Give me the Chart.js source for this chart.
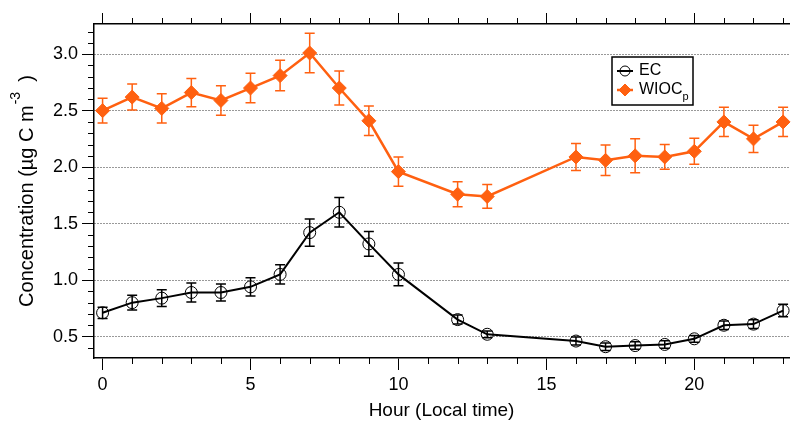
<!DOCTYPE html>
<html>
<head>
<meta charset="utf-8">
<title>EC and WIOCp diurnal profile</title>
<script src="https://cdn.jsdelivr.net/npm/chart.js@4.4.0/dist/chart.umd.min.js"></script>
<style>
  html, body { margin: 0; padding: 0; background: #fff; }
  #wrap { width: 797px; height: 422px; }
</style>
</head>
<body>
<div id="wrap"><canvas id="chart" width="797" height="422"></canvas></div>
<script>
'use strict';

// hours with data (11, 14, 15 missing)
const HOURS = [0, 1, 2, 3, 4, 5, 6, 7, 8, 9, 10, 12, 13, 16, 17, 18, 19, 20, 21, 22, 23];

const EC      = [0.71, 0.80, 0.84, 0.89, 0.89, 0.94, 1.05, 1.42, 1.60, 1.32, 1.05, 0.65, 0.52, 0.46, 0.41, 0.42, 0.43, 0.48, 0.60, 0.61, 0.73];
const EC_ERR  = [0.05, 0.065, 0.075, 0.085, 0.075, 0.08, 0.085, 0.12, 0.13, 0.11, 0.10, 0.04, 0.03, 0.035, 0.033, 0.033, 0.033, 0.03, 0.038, 0.038, 0.055];

const WIOC     = [2.50, 2.62, 2.52, 2.66, 2.59, 2.70, 2.81, 3.01, 2.70, 2.41, 1.96, 1.76, 1.74, 2.09, 2.06, 2.10, 2.09, 2.14, 2.40, 2.25, 2.40];
const WIOC_ERR = [0.11, 0.115, 0.13, 0.125, 0.13, 0.13, 0.135, 0.175, 0.15, 0.13, 0.13, 0.11, 0.105, 0.12, 0.135, 0.15, 0.11, 0.115, 0.13, 0.12, 0.13];

const X_TICKS = [0, 5, 10, 15, 20];
const Y_TICKS = [0.5, 1.0, 1.5, 2.0, 2.5, 3.0];

const ORANGE = '#ff6010';
const FONT = '"Liberation Sans", Arial, sans-serif';

const toPoints = (ys) => HOURS.map((h, i) => ({ x: h, y: ys[i] }));

// vertical error bars with caps, drawn under the markers
const errorBars = {
  id: 'errorBars',
  beforeDatasetsDraw(chart) {
    const { ctx, scales: { x, y } } = chart;
    chart.data.datasets.forEach(ds => {
      ctx.save();
      ctx.strokeStyle = ds.borderColor;
      ctx.lineWidth = 1.5;
      ctx.beginPath();
      ds.data.forEach((p, i) => {
        const px = x.getPixelForValue(p.x);
        const top = y.getPixelForValue(p.y + ds.errors[i]);
        const bot = y.getPixelForValue(p.y - ds.errors[i]);
        ctx.moveTo(px, top); ctx.lineTo(px, bot);
        ctx.moveTo(px - 5, top); ctx.lineTo(px + 5, top);
        ctx.moveTo(px - 5, bot); ctx.lineTo(px + 5, bot);
      });
      ctx.stroke();
      ctx.restore();
    });
  }
};

// short minor ticks: every hour on x (top + bottom), every 0.1 on y
const minorTicks = {
  id: 'minorTicks',
  afterDraw(chart) {
    const { ctx, chartArea: a, scales: { x, y } } = chart;
    ctx.save();
    ctx.strokeStyle = '#000';
    ctx.lineWidth = 1;
    ctx.beginPath();
    for (let h = Math.ceil(x.min); h <= Math.floor(x.max); h++) {
      if (X_TICKS.includes(h)) continue;
      const px = Math.round(x.getPixelForValue(h)) + 0.5;
      ctx.moveTo(px, a.bottom); ctx.lineTo(px, a.bottom + 6);
      ctx.moveTo(px, a.top); ctx.lineTo(px, a.top - 6);
    }
    for (let k = Math.ceil(y.min * 10); k <= Math.floor(y.max * 10); k++) {
      if (k % 5 === 0) continue;
      const py = Math.round(y.getPixelForValue(k / 10)) + 0.5;
      ctx.moveTo(a.left - 6, py); ctx.lineTo(a.left, py);
    }
    ctx.stroke();
    ctx.restore();
  }
};

// y title with superscript
const yTitle = {
  id: 'yTitle',
  afterDraw(chart) {
    const { ctx, chartArea: a } = chart;
    const main = 'Concentration (µg C m', sup = '-3', end = '  )';
    ctx.save();
    ctx.translate(27, (a.top + a.bottom) / 2);
    ctx.rotate(-Math.PI / 2);
    ctx.fillStyle = '#000';
    ctx.textBaseline = 'middle';
    ctx.textAlign = 'left';
    ctx.font = '20px ' + FONT;
    const w1 = ctx.measureText(main).width, w3 = ctx.measureText(end).width;
    ctx.font = '14px ' + FONT;
    const w2 = ctx.measureText(sup).width;
    const sx = -(w1 + w2 + w3) / 2;
    ctx.font = '20px ' + FONT;
    ctx.fillText(main, sx, 0);
    ctx.font = '14px ' + FONT;
    ctx.fillText(sup, sx + w1 + 1, -11);
    ctx.font = '20px ' + FONT;
    ctx.fillText(end, sx + w1 + w2, 0);
    ctx.restore();
  }
};

// boxed legend inside the plot
const legendBox = {
  id: 'legendBox',
  afterDraw(chart) {
    const { ctx } = chart;
    const bx = 612, by = 57, bw = 81, bh = 48;
    ctx.save();
    ctx.fillStyle = '#fff';
    ctx.fillRect(bx, by, bw, bh);
    ctx.strokeStyle = '#000';
    ctx.lineWidth = 1.5;
    ctx.strokeRect(bx, by, bw, bh);
    const rows = [
      { ds: chart.data.datasets[0], y: by + 14 },
      { ds: chart.data.datasets[1], y: by + 33 }
    ];
    rows.forEach(r => {
      const ds = r.ds, cx = bx + 13;
      ctx.strokeStyle = ds.borderColor;
      ctx.lineWidth = ds.borderWidth;
      ctx.beginPath(); ctx.moveTo(bx + 5, r.y); ctx.lineTo(bx + 21, r.y); ctx.stroke();
      ctx.fillStyle = ds.pointBackgroundColor;
      ctx.strokeStyle = ds.pointBorderColor;
      ctx.lineWidth = ds.pointBorderWidth;
      Chart.helpers.drawPoint(ctx, {
        pointStyle: ds.pointStyle, radius: ds.pointRadius - 1, rotation: 0,
        borderWidth: ds.pointBorderWidth
      }, cx, r.y);
      ctx.fillStyle = '#000';
      ctx.textBaseline = 'middle';
      ctx.textAlign = 'left';
      ctx.font = '16px ' + FONT;
      ctx.fillText(ds.label, bx + 27, r.y);
      if (ds.subLabel) {
        const w = ctx.measureText(ds.label).width;
        ctx.font = '11px ' + FONT;
        ctx.fillText(ds.subLabel, bx + 27 + w, r.y + 7);
      }
    });
    ctx.restore();
  }
};

new Chart(document.getElementById('chart'), {
  type: 'scatter',
  data: {
    datasets: [
      {
        label: 'EC', data: toPoints(EC), errors: EC_ERR,
        showLine: true, borderColor: '#000', borderWidth: 2,
        pointStyle: 'circle', pointRadius: 6, pointBorderWidth: 1,
        pointBackgroundColor: 'rgba(0,0,0,0)', pointBorderColor: '#000',
        clip: false
      },
      {
        label: 'WIOC', subLabel: 'p', data: toPoints(WIOC), errors: WIOC_ERR,
        showLine: true, borderColor: ORANGE, borderWidth: 2.5,
        pointStyle: 'rectRot', pointRadius: 7, pointBorderWidth: 1,
        pointBackgroundColor: ORANGE, pointBorderColor: ORANGE,
        clip: false
      }
    ]
  },
  options: {
    responsive: false,
    animation: false,
    layout: { padding: 0 },
    plugins: { legend: { display: false }, tooltip: { enabled: false } },
    scales: {
      x: {
        type: 'linear', position: 'bottom', min: -0.29, max: 23.2,
        afterBuildTicks: s => { s.ticks = X_TICKS.map(v => ({ value: v })); },
        afterFit: s => { s.height = 64; },
        ticks: { color: '#000', font: { family: FONT, size: 18 }, padding: 4, maxRotation: 0 },
        grid: { drawOnChartArea: false, tickLength: 12, tickColor: '#000', tickWidth: 1 },
        border: { color: '#000', width: 1.5 },
        title: { display: true, text: 'Hour (Local time)', color: '#000', font: { family: FONT, size: 19 }, padding: { top: 0, bottom: 0 } }
      },
      x2: {
        type: 'linear', position: 'top', min: -0.29, max: 23.2,
        afterBuildTicks: s => { s.ticks = X_TICKS.map(v => ({ value: v })); },
        afterFit: s => { s.height = 24; },
        ticks: { display: false },
        grid: { drawOnChartArea: false, tickLength: 11, tickColor: '#000', tickWidth: 1 },
        border: { color: '#000', width: 1.5 }
      },
      y: {
        type: 'linear', position: 'left', min: 0.31, max: 3.267,
        afterBuildTicks: s => { s.ticks = Y_TICKS.map(v => ({ value: v })); },
        afterFit: s => { s.width = 94; },
        ticks: { color: '#000', font: { family: FONT, size: 18 }, padding: 4, callback: v => v.toFixed(1) },
        grid: { color: '#333', lineWidth: 1, tickColor: '#000', tickWidth: 1, tickLength: 12, tickBorderDash: [] },
        border: { color: '#000', width: 1.5, dash: [1, 2] }
      }
    }
  },
  plugins: [errorBars, minorTicks, yTitle, legendBox]
});
</script>
</body>
</html>
